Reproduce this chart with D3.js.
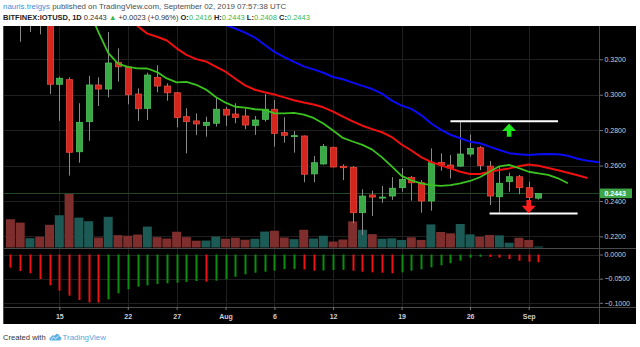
<!DOCTYPE html>
<html>
<head>
<meta charset="utf-8">
<script src="https://cdn.jsdelivr.net/npm/d3@7"></script>
<style>
  html, body { margin: 0; padding: 0; background: #fff; }
  svg { display: block; }
  text { font-family: "Liberation Sans", Arial, sans-serif; }
</style>
</head>
<body>
<svg id="chart" width="640" height="347"></svg>
<script>
// ---- IOTUSD daily candles, Bitfinex (first day 2019-07-10) ----
const firstDay = "2019-07-10";
const open  = [0.372, 0.358, 0.345, 0.352, 0.343, 0.3059, 0.3085, 0.2678, 0.2848, 0.3055,
               0.3032, 0.3183, 0.3157, 0.3004, 0.2923, 0.3098, 0.3049, 0.3011, 0.2876, 0.2852,
               0.2827, 0.2839, 0.2918, 0.2891, 0.2880, 0.2827, 0.2861, 0.2918, 0.2786, 0.2765,
               0.2767, 0.2553, 0.2609, 0.2703, 0.2596, 0.2590, 0.2334, 0.2434, 0.2419, 0.2428,
               0.2475, 0.2533, 0.2503, 0.2400, 0.2618, 0.2603, 0.2597, 0.2665, 0.2701, 0.2597,
               0.2424, 0.2509, 0.2537, 0.2475, 0.2416];
const high  = [0.378, 0.362, 0.360, 0.356, 0.345, 0.3102, 0.3098, 0.2952, 0.3107, 0.3098,
               0.3354, 0.3262, 0.3160, 0.3036, 0.3124, 0.3166, 0.3064, 0.3015, 0.2923, 0.2895,
               0.2876, 0.2986, 0.2932, 0.2952, 0.2923, 0.2880, 0.3004, 0.2970, 0.2873, 0.2796,
               0.2770, 0.2654, 0.2722, 0.2706, 0.2607, 0.2597, 0.2466, 0.2458, 0.2485, 0.2534,
               0.2585, 0.2541, 0.2518, 0.2697, 0.2669, 0.2660, 0.2848, 0.2776, 0.2710, 0.2626,
               0.2594, 0.2560, 0.2547, 0.2509, 0.2443];
const low   = [0.352, 0.3299, 0.3354, 0.3341, 0.3004, 0.2852, 0.2543, 0.2616, 0.2740, 0.2936,
               0.2985, 0.3074, 0.2946, 0.2852, 0.2857, 0.3014, 0.2966, 0.2816, 0.2669, 0.2773,
               0.2763, 0.2820, 0.2823, 0.2839, 0.2805, 0.2773, 0.2848, 0.2707, 0.2729, 0.2673,
               0.2506, 0.2506, 0.2605, 0.2590, 0.2518, 0.2274, 0.2208, 0.2315, 0.2390, 0.2406,
               0.2452, 0.2402, 0.2334, 0.2345, 0.2571, 0.2528, 0.2592, 0.2650, 0.2574, 0.2377,
               0.2334, 0.2452, 0.2438, 0.2406, 0.2408];
const close = [0.358, 0.345, 0.352, 0.343, 0.3059, 0.3093, 0.2675, 0.2844, 0.3055, 0.3032,
               0.3179, 0.3158, 0.3000, 0.2921, 0.3111, 0.3049, 0.3011, 0.2872, 0.2848, 0.2835,
               0.2844, 0.2918, 0.2885, 0.2872, 0.2829, 0.2857, 0.2918, 0.2782, 0.2771, 0.2769,
               0.2551, 0.2616, 0.2707, 0.2592, 0.2588, 0.2334, 0.2428, 0.2422, 0.2422, 0.2472,
               0.2522, 0.2503, 0.2400, 0.2616, 0.2605, 0.2585, 0.2665, 0.2697, 0.2601, 0.2428,
               0.2500, 0.2537, 0.2475, 0.2420, 0.2443];
// daily volume, millions of IOTA
const volume = [14.2, 12.5, 4.7, 5.4, 11.4, 16.2, 27.2, 15.0, 13.2, 5.0,
                15.4, 6.2, 5.9, 6.5, 10.5, 5.2, 4.5, 7.9, 5.2, 3.4,
                3.5, 5.5, 4.4, 4.9, 3.9, 4.4, 8.0, 8.4, 5.0, 4.2,
                8.9, 4.5, 5.9, 3.0, 4.0, 13.1, 8.9, 6.7, 4.4, 4.6,
                3.8, 5.1, 3.8, 11.6, 7.8, 7.1, 11.8, 6.6, 5.4, 6.3,
                6.1, 2.4, 4.9, 3.8, 0.5];
// lower-pane oscillator histogram
const oscillator = [-0.0273, -0.0342, -0.0389, -0.0507, -0.0638, -0.0749, -0.0853, -0.0942, -0.0992, -0.0996,
                    -0.0928, -0.0803, -0.0720, -0.0667, -0.0638, -0.0611, -0.0596, -0.0584, -0.0569, -0.0549,
                    -0.0563, -0.0542, -0.0513, -0.0460, -0.0410, -0.0377, -0.0356, -0.0335, -0.0302, -0.0298,
                    -0.0306, -0.0335, -0.0330, -0.0322, -0.0318, -0.0335, -0.0356, -0.0369, -0.0377, -0.0389,
                    -0.0369, -0.0335, -0.0306, -0.0265, -0.0224, -0.0182, -0.0128, -0.0066, -0.0046, -0.0050,
                    -0.0066, -0.0093, -0.0128, -0.0149, -0.0161];

// Alligator lines (displaced forward, so they run past the last candle)
const lipsStart = "2019-07-18";
const lips  = [0.348, 0.3354, 0.3236, 0.3176, 0.3157, 0.3149, 0.3148, 0.3128, 0.3092, 0.3070,
               0.3073, 0.3056, 0.3029, 0.2987, 0.2955, 0.2932, 0.2927, 0.2918, 0.2914, 0.2895,
               0.2895, 0.2898, 0.2888, 0.2869, 0.2837, 0.2798, 0.2756, 0.2736, 0.2717, 0.2690,
               0.2646, 0.2595, 0.2542, 0.2516, 0.2499, 0.2490, 0.2485, 0.2490, 0.2500, 0.2513,
               0.2534, 0.2565, 0.2596, 0.2604, 0.2585, 0.2565, 0.2556, 0.2547, 0.2528, 0.2500];
const teethStart = "2019-07-22";
const teeth = [0.3506, 0.3388, 0.3345, 0.3327, 0.3306, 0.3262, 0.3225, 0.3201, 0.3188, 0.3159,
               0.3130, 0.3090, 0.3053, 0.3028, 0.3014, 0.3001, 0.2985, 0.2969, 0.2956, 0.2945,
               0.2929, 0.2905, 0.2876, 0.2850, 0.2825, 0.2806, 0.2788, 0.2761, 0.2719, 0.2685,
               0.2648, 0.2621, 0.2602, 0.2584, 0.2565, 0.2552, 0.2552, 0.2565, 0.2575, 0.2584,
               0.2596, 0.2606, 0.2599, 0.2586, 0.2573, 0.2559, 0.2545, 0.2530];
const jawStart = "2019-07-31";
const jaw   = [0.3433, 0.3394, 0.3374, 0.3351, 0.3323, 0.3282, 0.3242, 0.3212, 0.3185, 0.3160,
               0.3143, 0.3124, 0.3100, 0.3087, 0.3068, 0.3050, 0.3032, 0.3006, 0.2967, 0.2939,
               0.2920, 0.2885, 0.2839, 0.2803, 0.2774, 0.2754, 0.2735, 0.2726, 0.2707, 0.2688,
               0.2670, 0.2664, 0.2660, 0.2664, 0.2665, 0.2664, 0.2655, 0.2638, 0.2627, 0.2620, 0.2615];

// axis ticks
const priceTicks = [0.22, 0.24, 0.26, 0.28, 0.30, 0.32];
const oscTicks = [0, -0.05, -0.10];
const timeTickDates  = ["2019-07-15", "2019-07-22", "2019-07-27", "2019-08-01", "2019-08-06",
                        "2019-08-12", "2019-08-19", "2019-08-26", "2019-09-01"];
const timeTickLabels = ["15", "22", "27", "Aug", "6", "12", "19", "26", "Sep"];

// trader's drawings: range lines and breakout arrows
const rangeLines = [
  { from: "2019-08-24", to: "2019-09-04", price: 0.2850 },
  { from: "2019-08-28", to: "2019-09-06", price: 0.2330 }
];
const arrows = [
  { day: "2019-08-30", tail: 0.2762, tip: 0.2838, color: "#1ee61e" },
  { day: "2019-09-01", tail: 0.2406, tip: 0.2331, color: "#ff1e1e" }
];

const header = {
  author: "nauris.treigys",
  published: " published on TradingView.com, September 02, 2019 07:57:38 UTC",
  symbol: "BITFINEX:IOTUSD, 1D",
  change: "+0.0023 (+0.96%)"
};

// ---------------------------------------------------------------
const parseDay = d3.utcParse("%Y-%m-%d");
const day0 = parseDay(firstDay);
const dates = open.map((_, i) => d3.utcDay.offset(day0, i));
const candles = dates.map((d, i) => ({ date: d, o: open[i], h: high[i], l: low[i], c: close[i], v: volume[i] }));
const fmt4 = d3.format(".4f");

const L = 3, R = 600, FR = 636, TOP = 26, PB = 248, OB = 307, AB = 324;

const svg = d3.select("#chart");
const x = d3.scaleUtc()
  .domain([Date.UTC(2019, 6, 9, 5, 50), Date.UTC(2019, 8, 8, 7, 0)])
  .range([L, R]);
const y = d3.scaleLinear().domain([0.22, 0.32]).range([236.4, 59.3]);
const yOsc = d3.scaleLinear().domain([-0.1, 0]).range([302.8, 254.5]);
const yVol = d3.scaleLinear().domain([0, d3.max(volume)]).range([247.5, 193.3]);

const defs = svg.append("defs");
defs.append("clipPath").attr("id", "clipPrice")
  .append("rect").attr("x", L + 0.5).attr("y", TOP).attr("width", R - L - 0.5).attr("height", PB - TOP);
defs.append("clipPath").attr("id", "clipOsc")
  .append("rect").attr("x", L + 0.5).attr("y", PB).attr("width", R - L - 0.5).attr("height", OB - PB);

// chart background
svg.append("rect").attr("x", L).attr("y", TOP).attr("width", FR - L).attr("height", AB - TOP)
  .attr("fill", "#000");

// grid
const grid = svg.append("g").attr("stroke", "#1f1f1f").attr("stroke-width", 1);
timeTickDates.forEach(s => {
  const gx = Math.round(x(parseDay(s))) + 0.5;
  grid.append("line").attr("x1", gx).attr("x2", gx).attr("y1", TOP).attr("y2", OB);
});
priceTicks.forEach(p => {
  const gy = Math.round(y(p)) + 0.5;
  grid.append("line").attr("x1", L).attr("x2", R).attr("y1", gy).attr("y2", gy);
});
oscTicks.forEach(p => {
  const gy = Math.round(yOsc(p)) + 0.5;
  grid.append("line").attr("x1", L).attr("x2", R).attr("y1", gy).attr("y2", gy);
});

// volume columns
const priceG = svg.append("g").attr("clip-path", "url(#clipPrice)");
priceG.append("g").selectAll("rect").data(candles).join("rect")
  .attr("x", d => x(d.date) - 4.5)
  .attr("width", 9)
  .attr("y", d => yVol(d.v))
  .attr("height", d => yVol(0) - yVol(d.v))
  .attr("fill", d => d.c >= d.o ? "#1c5a55" : "#7e2f2d");

// last price line
const last = candles[candles.length - 1];
priceG.append("line")
  .attr("x1", L).attr("x2", R)
  .attr("y1", Math.round(y(last.c)) + 0.5).attr("y2", Math.round(y(last.c)) + 0.5)
  .attr("stroke", "#1d4a22").attr("stroke-width", 1);

// candles
const cg = priceG.append("g");
cg.selectAll("line").data(candles).join("line")
  .attr("x1", d => Math.round(x(d.date)) + 0.5)
  .attr("x2", d => Math.round(x(d.date)) + 0.5)
  .attr("y1", d => y(d.h)).attr("y2", d => y(d.l))
  .attr("stroke", "#8a8a8a").attr("stroke-width", 1);
cg.selectAll("rect").data(candles).join("rect")
  .attr("x", d => Math.round(x(d.date)) - 2.5)
  .attr("width", 6)
  .attr("y", d => y(Math.max(d.o, d.c)))
  .attr("height", d => Math.max(1, Math.abs(y(d.o) - y(d.c))))
  .attr("fill", d => d.c >= d.o ? "#3aa946" : "#d4261f")
  .attr("stroke", d => d.c >= d.o ? "#4fc25a" : "#ec4a3a")
  .attr("stroke-width", 0.8);

// Alligator lines
function drawLine(values, start, color, width) {
  const s = parseDay(start);
  priceG.append("path")
    .datum(values)
    .attr("fill", "none")
    .attr("stroke", color)
    .attr("stroke-width", width)
    .attr("stroke-linejoin", "round")
    .attr("d", d3.line().x((v, i) => x(d3.utcDay.offset(s, i))).y(v => y(v)));
}
drawLine(jaw, jawStart, "#0b0bf5", 2);
drawLine(teeth, teethStart, "#f01010", 2);
drawLine(lips, lipsStart, "#3cc21e", 1.8);

// drawings
rangeLines.forEach(r => {
  priceG.append("line")
    .attr("x1", x(parseDay(r.from))).attr("x2", x(parseDay(r.to)))
    .attr("y1", y(r.price)).attr("y2", y(r.price))
    .attr("stroke", "#ffffff").attr("stroke-width", 2);
});
arrows.forEach(a => {
  const ax = x(parseDay(a.day));
  const yt = y(a.tip), yb = y(a.tail);
  const dir = Math.sign(yb - yt);          // +1 when the arrow points up
  const headLen = 7.5, headHalf = 7, shaft = 2.3;
  const yh = yt + dir * headLen;
  const p = d3.path();
  p.moveTo(ax, yt);
  p.lineTo(ax + headHalf, yh);
  p.lineTo(ax + shaft, yh);
  p.lineTo(ax + shaft, yb);
  p.lineTo(ax - shaft, yb);
  p.lineTo(ax - shaft, yh);
  p.lineTo(ax - headHalf, yh);
  p.closePath();
  priceG.append("path").attr("d", p.toString()).attr("fill", a.color);
});

// oscillator histogram
svg.append("g").attr("clip-path", "url(#clipOsc)")
  .selectAll("rect").data(oscillator).join("rect")
  .attr("x", (v, i) => Math.round(x(dates[i])) - 0.5)
  .attr("width", 2)
  .attr("y", v => yOsc(Math.max(0, v)))
  .attr("height", v => Math.abs(yOsc(v) - yOsc(0)))
  .attr("fill", (v, i) => (i > 0 && v > oscillator[i - 1]) ? "#0a8f0a" : "#f01212");

// pane separators and frame
const sep = svg.append("g").attr("stroke", "#4a4a4a").attr("stroke-width", 1);
sep.append("line").attr("x1", L).attr("x2", FR).attr("y1", PB + 0.5).attr("y2", PB + 0.5);
sep.append("line").attr("x1", L).attr("x2", FR).attr("y1", OB + 0.5).attr("y2", OB + 0.5);
sep.append("line").attr("x1", R - 0.5).attr("x2", R - 0.5).attr("y1", TOP).attr("y2", AB);
sep.append("line").attr("x1", L + 0.5).attr("x2", L + 0.5).attr("y1", TOP).attr("y2", AB);

// axes
function styleAxis(g) {
  g.select(".domain").remove();
  g.selectAll(".tick line").attr("stroke", "#777");
  g.selectAll(".tick text").attr("fill", "#cfcfcf").attr("font-size", 7)
    .attr("font-family", "'Liberation Sans', Arial, sans-serif");
}
svg.append("g").attr("transform", `translate(${R},0)`)
  .call(d3.axisRight(y).tickValues(priceTicks).tickFormat(fmt4).tickSize(3).tickPadding(1.5))
  .call(styleAxis);
svg.append("g").attr("transform", `translate(${R},0)`)
  .call(d3.axisRight(yOsc).tickValues(oscTicks).tickFormat(fmt4).tickSize(3).tickPadding(1.5))
  .call(styleAxis);
const timeByLabel = new Map(timeTickDates.map((s, i) => [+parseDay(s), timeTickLabels[i]]));
svg.append("g").attr("transform", `translate(0,${OB})`)
  .call(d3.axisBottom(x).tickValues(timeTickDates.map(parseDay))
    .tickFormat(d => timeByLabel.get(+d)).tickSize(3).tickPadding(4))
  .call(styleAxis)
  .call(g => g.selectAll(".tick text").attr("font-weight", "bold"));

// last price tag
const tagY = y(last.c);
svg.append("rect").attr("x", R).attr("y", tagY - 4.8).attr("width", 32).attr("height", 9.6)
  .attr("fill", "#3fa648");
svg.append("text").attr("x", R + 4.5).attr("y", tagY + 2.5)
  .attr("font-size", 7).attr("fill", "#fff").attr("font-weight", "bold").text(fmt4(last.c));

// header
const h1 = svg.append("text").attr("x", 3).attr("y", 9.4).attr("font-size", 7.9);
h1.append("tspan").attr("fill", "#3b8fd9").text(header.author);
h1.append("tspan").attr("fill", "#4d4d4d").text(header.published);

const up = "#3bb54a";
const h2 = svg.append("text").attr("x", 3).attr("y", 20).attr("font-size", 7.5);
h2.append("tspan").attr("fill", "#222").attr("font-weight", "bold").text(header.symbol);
h2.append("tspan").attr("fill", "#333").text("  " + fmt4(last.c) + " ");
h2.append("tspan").attr("fill", up).text("\u25B2");
h2.append("tspan").attr("fill", "#333").text(" " + header.change + " ");
[["O:", last.o], ["H:", last.h], ["L:", last.l], ["C:", last.c]].forEach(([k, v]) => {
  h2.append("tspan").attr("fill", "#222").attr("font-weight", "bold").text(" " + k);
  h2.append("tspan").attr("fill", up).text(fmt4(v));
});

// footer
svg.append("text").attr("x", 3).attr("y", 339.5).attr("font-size", 7.6).attr("fill", "#333")
  .text("Created with");
const logo = svg.append("g").attr("transform", "translate(49.5,333)").attr("fill", "#5aaee6");
logo.append("path")
  .attr("d", "M1,7.5 C-0.5,7.5 -0.5,4.5 1.5,4.3 C1.8,2.2 4.2,1.5 5.2,3 C6,0.3 10,0.5 10.2,3.6 C12.2,3.6 12.4,7.5 10.2,7.5 Z");
logo.append("path").attr("d", "M1.5,6.5 L4,4.2 L6,5.8 L9,3")
  .attr("fill", "none").attr("stroke", "#fff").attr("stroke-width", 0.9);
svg.append("text").attr("x", 62.5).attr("y", 339.5).attr("font-size", 7.9).attr("fill", "#55a6e0")
  .text("TradingView");
</script>
</body>
</html>
